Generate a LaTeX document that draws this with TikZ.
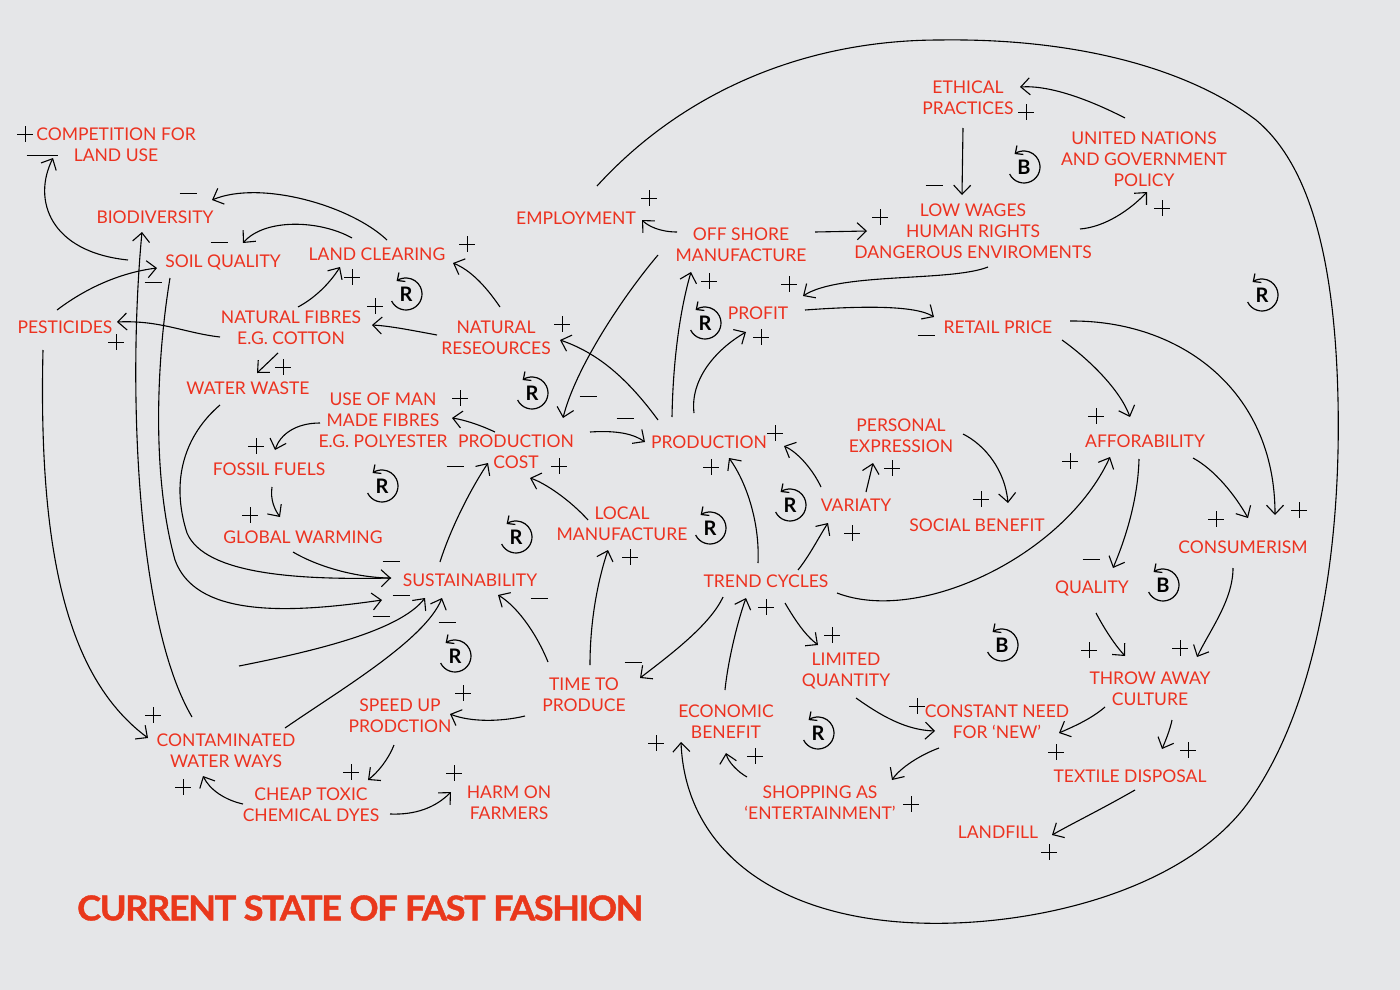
\documentclass[tikz,border=0pt]{standalone}
\usepackage{fontspec}
\usepackage{graphicx}
\setmainfont{Lato}
\newfontfamily\titlefont{Lato}[LetterSpace=-4, BoldFeatures={FakeBold=1.2}]
\usetikzlibrary{arrows.meta}
\definecolor{bg}{RGB}{229,230,232}
\definecolor{lab}{RGB}{236,50,32}
\definecolor{ttl}{RGB}{233,56,28}
\tikzset{
 v/.style={text=lab, font=\fontsize{17.5}{21}\selectfont, align=center, inner sep=0pt, text depth=0pt},
 lp/.style={text=black, font=\fontsize{20}{20}\selectfont\bfseries, inner sep=0pt, text depth=0pt},
 ln/.style={line width=1.1pt, black},
 ar/.style={ln, -{Straight Barb[length=9pt,width=17pt]}},
 larc/.style={line width=1.2pt, black, -{Straight Barb[length=6pt,width=11pt]}},
 sgn/.style={line width=1pt, black},
 pls/.pic={\draw[sgn] (-8,0)--(8,0) (0,-8)--(0,8);},
 mns/.pic={\draw[sgn] (-8.5,0)--(8.5,0);},
 lmns/.pic={\draw[sgn] (-15.5,0)--(15.5,0);},
}
\begin{document}
\begin{tikzpicture}[x=1pt,y=-1pt]
\useasboundingbox (0,0) rectangle (1400,990);
\fill[bg] (0,0) rectangle (1400,990);
% nodes
\node[v] (comp) at (116,145) {COMPETITION FOR\\LAND USE};
\node[v] (biod) at (155,217) {BIODIVERSITY};
\node[v] (soilq) at (223,261) {SOIL QUALITY};
\node[v] (landc) at (377,254) {LAND CLEARING};
\node[v] (pest) at (65,327) {PESTICIDES};
\node[v] (natf) at (291,328) {NATURAL FIBRES\\E.G. COTTON};
\node[v] (waterw) at (248,388) {WATER WASTE};
\node[v] (useman) at (383,420) {USE OF MAN\\MADE FIBRES\\E.G. POLYESTER};
\node[v] (fossil) at (269,469) {FOSSIL FUELS};
\node[v] (globalw) at (303,537) {GLOBAL WARMING};
\node[v] (natres) at (496,338) {NATURAL\\RESEOURCES};
\node[v] (pcost) at (516,452) {PRODUCTION\\COST};
\node[v] (prod) at (709,442) {PRODUCTION};
\node[v] (offsh) at (741,245) {OFF SHORE\\MANUFACTURE};
\node[v] (employ) at (576,218) {EMPLOYMENT};
\node[v] (ethic) at (968,98) {ETHICAL\\PRACTICES};
\node[v] (loww) at (973,231) {LOW WAGES\\HUMAN RIGHTS\\DANGEROUS ENVIROMENTS};
\node[v] (un) at (1144,159) {UNITED NATIONS\\AND GOVERNMENT\\POLICY};
\node[v] (profit) at (758,313) {PROFIT};
\node[v] (retail) at (998,327) {RETAIL PRICE};
\node[v] (pers) at (901,436) {PERSONAL\\EXPRESSION};
\node[v] (vari) at (856,505) {VARIATY};
\node[v] (social) at (977,525) {SOCIAL BENEFIT};
\node[v] (afford) at (1145,441) {AFFORABILITY};
\node[v] (consum) at (1243,547) {CONSUMERISM};
\node[v] (qual) at (1092,587) {QUALITY};
\node[v] (throw) at (1150,689) {THROW AWAY\\CULTURE};
\node[v] (textile) at (1130,776) {TEXTILE DISPOSAL};
\node[v] (landfill) at (998,832) {LANDFILL};
\node[v] (trend) at (766,581) {TREND CYCLES};
\node[v] (sust) at (470,580) {SUSTAINABILITY};
\node[v] (time) at (584,695) {TIME TO\\PRODUCE};
\node[v] (local) at (622,524) {LOCAL\\MANUFACTURE};
\node[v] (limit) at (846,670) {LIMITED\\QUANTITY};
\node[v] (const) at (997,722) {CONSTANT NEED\\FOR ‘NEW’};
\node[v] (econ) at (726,722) {ECONOMIC\\BENEFIT};
\node[v] (shop) at (820,803) {SHOPPING AS\\‘ENTERTAINMENT’};
\node[v] (speed) at (400,716) {SPEED UP\\PRODCTION};
\node[v] (cheap) at (311,805) {CHEAP TOXIC\\CHEMICAL DYES};
\node[v] (harm) at (509,803) {HARM ON\\FARMERS};
\node[v] (contam) at (226,751) {CONTAMINATED\\WATER WAYS};
\node[anchor=west, text=ttl, inner sep=0pt] (title) at (77,908) {\resizebox{566pt}{25pt}{\titlefont\bfseries CURRENT STATE OF FAST FASHION}};
% loop markers
\foreach \n/\x/\y/\t in {m1/406/294/R, m2/532/393/R, m3/382/486/R, m4/516/537/R, m5/455/656/R, m6/705/323/R, m7/790/505/R, m8/710/528/R, m9/818/733/R, m10/1262/295/R, m11/1024/167/B, m12/1163/585/B, m13/1002/645/B}{
 \node[lp] (\n) at (\x,\y) {\t};
 \draw[larc] (\n.center) ++(154:16) arc[start angle=154, end angle=-126, radius=16];
}
% connectors
\draw[ar] ([shift={(-95,-1)}]soilq.center) .. controls (50,252) and (32,200) .. ([shift={(-63,13)}]comp.center);
\draw[ar] ([shift={(10,-14)}]landc.center) .. controls (350,205) and (260,180) .. ([shift={(57,-17)}]biod.center);
\draw[ar] ([shift={(-25,-16)}]landc.center) .. controls (320,220) and (265,218) .. ([shift={(20,-18)}]soilq.center);
\draw[ar] ([shift={(-8,-17)}]pest.center) .. controls (90,285) and (125,272) .. ([shift={(-66,7)}]soilq.center);
\draw[ar] ([shift={(-34,-34)}]contam.center) .. controls (135,620) and (128,380) .. ([shift={(-13,15)}]biod.center);
\draw[ar] ([shift={(-53,17)}]soilq.center) .. controls (158,350) and (150,470) .. (175,560) .. controls (195,615) and (280,615) .. ([shift={(-88,20)}]sust.center);
\draw[ar] ([shift={(-28,17)}]waterw.center) .. controls (185,435) and (170,480) .. (187,533) .. controls (205,575) and (300,580) .. ([shift={(-79,-2)}]sust.center);
\draw[ln] ([shift={(-10,15)}]globalw.center) .. controls (320,568) and (360,578) .. ([shift={(-79,-2)}]sust.center);
\coordinate (fr1) at (239,666);
\draw[ar] (fr1) .. controls (320,650) and (400,630) .. ([shift={(-45,18)}]sust.center);
\draw[ar] ([shift={(59,-23)}]contam.center) .. controls (340,690) and (425,640) .. ([shift={(-28,18)}]sust.center);
\draw[ar] ([shift={(-30,-18)}]sust.center) .. controls (450,530) and (470,490) .. ([shift={(-28,11)}]pcost.center);
\draw[ar] ([shift={(-36,-33)}]time.center) .. controls (535,630) and (515,605) .. ([shift={(28,15)}]sust.center);
\draw[ar] ([shift={(4,-31)}]natres.center) .. controls (485,285) and (470,270) .. ([shift={(76,9)}]landc.center);
\draw[ar] ([shift={(7,-21)}]natf.center) .. controls (315,298) and (330,283) .. ([shift={(-37,13)}]landc.center);
\draw[ar] ([shift={(-71,9)}]natf.center) .. controls (185,333) and (160,320) .. ([shift={(52,-5)}]pest.center);
\draw[ar] ([shift={(-59,-3)}]natres.center) .. controls (410,330) and (390,326) .. ([shift={(81,-3)}]natf.center);
\draw[ar] ([shift={(-13,25)}]natf.center) -- ([shift={(9,-15)}]waterw.center);
\draw[ar] ([shift={(-22,23)}]pest.center) .. controls (38,560) and (70,680) .. ([shift={(-78,-13)}]contam.center);
\draw[ar] ([shift={(-21,-20)}]pcost.center) .. controls (480,425) and (465,420) .. ([shift={(69,-2)}]useman.center);
\draw[ar] ([shift={(-63,3)}]useman.center) .. controls (295,423) and (280,435) .. ([shift={(6,-19)}]fossil.center);
\draw[ar] ([shift={(3,18)}]fossil.center) .. controls (270,500) and (275,510) .. ([shift={(-23,-20)}]globalw.center);
\draw[ar] ([shift={(-51,-22)}]prod.center) .. controls (625,375) and (595,352) .. ([shift={(64,2)}]natres.center);
\draw[ar] ([shift={(-83,10)}]offsh.center) .. controls (620,300) and (575,370) .. ([shift={(47,-34)}]pcost.center);
\draw[ar] ([shift={(74,-20)}]pcost.center) .. controls (620,430) and (635,435) .. ([shift={(-64,0)}]prod.center);
\draw[ar] ([shift={(-34,-4)}]local.center) .. controls (570,500) and (545,483) .. ([shift={(14,26)}]pcost.center);
\draw[ar] ([shift={(-37,-25)}]prod.center) .. controls (673,360) and (680,310) .. ([shift={(-50,27)}]offsh.center);
\draw[ar] ([shift={(-15,-29)}]prod.center) .. controls (690,380) and (715,350) .. ([shift={(-12,19)}]profit.center);
\draw[ar] ([shift={(-8,-18)}]trend.center) .. controls (760,520) and (745,480) .. ([shift={(20,16)}]prod.center);
\draw[ar] ([shift={(-35,-18)}]vari.center) .. controls (812,468) and (797,452) .. ([shift={(75,4)}]prod.center);
\draw[ar] ([shift={(-64,-13)}]offsh.center) .. controls (660,232) and (648,226) .. ([shift={(66,2)}]employ.center);
\draw[ar] ([shift={(74,-13)}]offsh.center) -- ([shift={(-106,0)}]loww.center);
\draw[ar] ([shift={(21,-32)}]employ.center) .. controls (680,95) and (800,40) .. (940,40)
  .. controls (1080,38) and (1190,70) .. (1256,120)
  .. controls (1310,165) and (1335,260) .. (1338,400)
  .. controls (1341,540) and (1320,700) .. (1250,800)
  .. controls (1180,900) and (1000,935) .. (880,920)
  .. controls (760,905) and (685,840) .. ([shift={(-45,20)}]econ.center);
\draw[ar] ([shift={(-5,30)}]ethic.center) -- ([shift={(-11,-36)}]loww.center);
\draw[ar] ([shift={(-19,-41)}]un.center) .. controls (1090,100) and (1050,85) .. ([shift={(52,-11)}]ethic.center);
\draw[ar] ([shift={(107,-2)}]loww.center) .. controls (1105,227) and (1130,210) .. ([shift={(3,33)}]un.center);
\draw[ar] ([shift={(15,36)}]loww.center) .. controls (950,282) and (840,272) .. ([shift={(45,-17)}]profit.center);
\draw[ar] ([shift={(47,-3)}]profit.center) .. controls (860,306) and (915,305) .. ([shift={(-64,-10)}]retail.center);
\draw[ar] ([shift={(64,13)}]retail.center) .. controls (1090,360) and (1120,390) .. ([shift={(-15,-24)}]afford.center);
\draw[ar] ([shift={(72,-6)}]retail.center) .. controls (1180,320) and (1275,390) .. ([shift={(32,-32)}]consum.center);
\draw[ar] ([shift={(62,-2)}]pers.center) .. controls (985,445) and (1005,470) .. ([shift={(31,-22)}]social.center);
\draw[ar] ([shift={(10,-13)}]vari.center) -- ([shift={(-28,27)}]pers.center);
\draw[ar] ([shift={(32,-11)}]trend.center) .. controls (810,555) and (820,535) .. ([shift={(-28,18)}]vari.center);
\draw[ar] ([shift={(71,12)}]trend.center) .. controls (920,625) and (1065,555) .. ([shift={(-35,16)}]afford.center);
\draw[ar] ([shift={(-6,18)}]afford.center) .. controls (1138,500) and (1125,540) .. ([shift={(21,-19)}]qual.center);
\draw[ar] ([shift={(48,17)}]afford.center) .. controls (1215,470) and (1235,495) .. ([shift={(5,-29)}]consum.center);
\draw[ar] ([shift={(-10,21)}]consum.center) .. controls (1233,600) and (1210,630) .. ([shift={(47,-32)}]throw.center);
\draw[ar] ([shift={(4,26)}]qual.center) .. controls (1105,630) and (1115,645) .. ([shift={(-25,-33)}]throw.center);
\draw[ar] ([shift={(-45,18)}]throw.center) .. controls (1090,720) and (1070,728) .. ([shift={(62,11)}]const.center);
\draw[ar] ([shift={(22,31)}]throw.center) .. controls (1170,730) and (1165,742) .. ([shift={(32,-27)}]textile.center);
\draw[ar] ([shift={(5,14)}]textile.center) .. controls (1100,810) and (1075,822) .. ([shift={(54,3)}]landfill.center);
\draw[ar] ([shift={(-43,16)}]trend.center) .. controls (710,625) and (670,655) .. ([shift={(56,-17)}]time.center);
\draw[ar] ([shift={(-1,-32)}]econ.center) .. controls (728,660) and (738,620) .. ([shift={(-20,17)}]trend.center);
\draw[ar] ([shift={(19,22)}]trend.center) .. controls (795,620) and (805,635) .. ([shift={(-28,-25)}]limit.center);
\draw[ar] ([shift={(6,-30)}]time.center) .. controls (590,620) and (598,580) .. ([shift={(-14,26)}]local.center);
\draw[ar] ([shift={(-59,21)}]time.center) .. controls (500,722) and (470,722) .. ([shift={(50,-2)}]speed.center);
\draw[ar] ([shift={(10,28)}]limit.center) .. controls (880,715) and (905,730) .. ([shift={(-62,9)}]const.center);
\draw[ar] ([shift={(-58,26)}]const.center) .. controls (920,755) and (900,768) .. ([shift={(72,-23)}]shop.center);
\draw[ar] ([shift={(-73,-26)}]shop.center) .. controls (738,772) and (728,762) .. ([shift={(0,31)}]econ.center);
\draw[ar] ([shift={(-6,29)}]speed.center) .. controls (388,760) and (378,772) .. ([shift={(57,-25)}]cheap.center);
\draw[ar] ([shift={(-68,-1)}]cheap.center) .. controls (225,800) and (210,790) .. ([shift={(-23,25)}]contam.center);
\draw[ar] ([shift={(79,9)}]cheap.center) .. controls (415,815) and (435,808) .. ([shift={(-58,-11)}]harm.center);
% signs
\foreach \x/\y in {25/134, 467/244, 352/277, 375/306, 116/342, 283/367, 562/324, 460/398, 256/446, 250/515, 559/466, 649/198, 709/281, 761/337, 789/284, 775/433, 711/467, 880/217, 1026/112, 1162/208, 1096/416, 1299/510, 1070/461, 1216/519, 892/468, 852/533, 981/499, 630/557, 463/693, 351/772, 454/773, 183/787, 153/715, 766/607, 832/635, 917/706, 656/743, 755/756, 911/804, 1089/650, 1180/648, 1188/750, 1056/752, 1049/852}{\pic at (\x,\y) {pls};}
\foreach \x/\y in {188/193, 219/242, 153/282, 588/396, 625/418, 455/466, 934/185, 926/335, 1091/559, 539/598, 391/561, 401/595, 381/616, 447/622, 633/662}{\pic at (\x,\y) {mns};}
\pic at (42,155) {lmns};
\end{tikzpicture}
\end{document}
